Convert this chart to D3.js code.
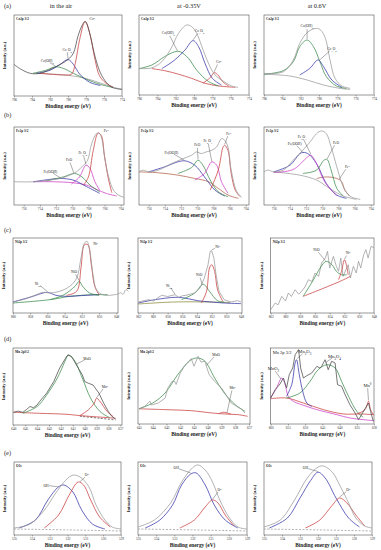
<!DOCTYPE html>
<html>
<head>
<meta charset="utf-8">
<script src="https://cdn.jsdelivr.net/npm/d3@7"></script>
<style>
  body { margin: 0; background: #fff; }
</style>
</head>
<body>
<svg id="fig" width="381" height="550"></svg>
<script>
// ---- tick labels (binding energy, eV) ----
const coTicks = [786, 784, 782, 780, 778, 776, 774];
const feTicks = [716, 714, 712, 710, 708, 706, 704];
const ni1Ticks = [860, 858, 856, 854, 852, 850, 848];
const ni2Ticks = [862, 860, 858, 856, 854, 852, 850, 848];
const mn1Ticks = [646, 645, 644, 643, 642, 641, 640, 639, 638, 637];
const mn2Ticks = [645, 644, 643, 642, 641, 640, 639, 638, 637];
const mn3Ticks = [660, 655, 650, 645, 640, 635, 630];
const oTicks = [535, 534, 533, 532, 531, 530, 529];

const colHeads = ['in the air', 'at -0.35V', 'at 0.6V'];
const rowTags = ['(a)', '(b)', '(c)', '(d)', '(e)'];

// ---- (a) Co 2p3/2 : [energy, intensity] ----
const a1Total = [[786,39],[785.3,33.5],[784.2,28],[783.1,28],[782,32.7],[780.9,38.8],[780,45],[779.4,53],[778.9,73.5],[778.4,88],[778.1,92],[777.9,89],[777.5,73.5],[777,49],[776.4,28.6],[775.7,16.3],[775,10.2],[774,8.2]];
const a1Bg = [[783.5,28],[781,26.5],[779,24],[777.5,20],[776.4,16],[775,11],[774,8.2]];
const a1Co0 = [[783.1,28],[780.5,26],[779.6,27],[779.2,40],[778.7,70],[778.1,92],[777.6,78],[777,45],[776.5,25],[775.8,16],[775,11]];
const a1Co3O4 = [[783.5,28],[782,31.8],[780.9,38.8],[780,45],[779.4,39],[778.7,27],[777.6,17],[776.4,13]];
const a1CoOH = [[783.9,28],[782.4,32],[781.4,36],[780.5,34],[779.4,28],[777.9,20.4],[776.4,14.3],[775,10.5]];

const a2Total = [[786,33],[784.6,34],[783.5,41.7],[782.4,60.4],[781.7,77],[780.8,87.5],[780.25,85.4],[779.7,77],[779,56],[778.25,35.4],[777.7,25],[777,18.8],[775.9,11.3],[775.2,9.6]];
const a2Bg = [[784.6,33],[783.2,30.4],[781.7,26],[780.25,20.8],[778.8,14.6],[777.3,11.3],[775.5,9.6]];
const a2Co0 = [[779,15],[778.2,22],[777.8,28],[777.3,24],[776.9,17],[776.2,11]];
const a2Co3O4 = [[783.5,33],[782.1,43.8],[781,56],[780.1,68],[779.5,60.4],[778.8,39.6],[778,20.8],[777,12.5]];
const a2CoOH = [[786,33],[784.6,37.5],[783.2,48],[782.1,54],[781.5,54],[780.6,45.8],[779.7,31],[778.4,16.7],[777.3,11.3]];

const a3Total = [[786,27],[783.9,29],[782.8,43.8],[782.1,64.6],[781.2,79],[780.25,83.3],[779.8,81],[779.3,70.8],[778.8,43.8],[778.25,20.8],[777.5,11.3],[776.6,8.3]];
const a3Bg = [[786,26],[783.2,23.75],[781.3,18.75],[779.5,12.5],[777.7,8.3],[776.6,7]];
const a3CoOH = [[786,26],[783.9,30.4],[782.8,41.7],[782.1,60.4],[781.3,68.75],[780.6,60.4],[779.9,41.7],[779.2,23],[778.1,11.3],[777,8.3]];
const a3Co3O4 = [[782.1,25],[781,33.3],[780.1,43.8],[779.5,35.4],[778.6,18.75],[777.5,9.6]];

// ---- (b) Fe 2p3/2 ----
const b1Total = [[717.2,29.8],[714.8,29.8],[712.8,32],[711.5,34],[710.3,38.3],[709.5,42.5],[708.6,51],[708.1,57.4],[707.6,78.7],[707,91.5],[706.7,92.3],[706.4,87],[706,61.7],[705.5,36],[704.9,19],[704.3,12.8],[703.6,9.8]];
const b1Bg = [[714.8,29.8],[712.4,29.8],[709.9,28.5],[708.2,25.5],[707,20],[705.8,14.9],[704.5,11.5]];
const b1Fe0 = [[708.6,25.5],[708,36],[707.4,70],[706.8,92.3],[706.4,89],[706,61.7],[705.5,32],[705.1,15.7]];
const b1Fe3O4 = [[710.1,26.8],[709.1,36],[708.3,51],[707.8,46.8],[707.2,29.8],[706.6,19]];
const b1FeO = [[713.2,31],[711.1,36],[709.7,40.4],[708.8,36],[707.8,25.5],[706.6,17]];
const b1FeOOH = [[714.8,29.8],[712.8,32.8],[711.5,34],[709.9,32],[708.2,23.4],[706.6,14.9]];

const b2Total = [[717.2,42.5],[716.7,44.7],[716,42.5],[714.8,44.7],[713.2,53],[711.7,59.6],[710.7,63.8],[710.1,68],[709.5,66],[708.9,68],[708.2,70.2],[707.6,74.5],[707,85],[706.6,83],[706.2,74.5],[705.8,44.7],[705.1,17],[704.5,9.8]];
const b2Bg = [[717.2,42.5],[714.8,41.3],[712.4,38.3],[710.3,34],[708.6,29.8],[707.4,21.3],[706.2,12.8],[704.9,8.5]];
const b2FeOOH = [[716,42.5],[714,49],[712.4,55.3],[711.5,56.6],[710.3,51],[709.1,36],[707.8,19],[706.6,11.5]];
const b2FeO = [[712.4,40.4],[710.7,48],[709.9,57.4],[709.3,51],[708.4,32],[707.4,17],[706.2,10.6]];
const b2Fe2O3 = [[710.3,32],[709.1,40.4],[708.2,55.3],[707.6,51],[707,29.8],[706.2,15]];
const b2Fe0 = [[708.4,19],[707.4,44.7],[706.8,74.5],[706.6,76.6],[706.2,70],[705.8,40.4],[705.3,19],[704.7,10.6]];

const b3Total = [[717.2,42.5],[716.7,44.7],[716,42.5],[714.8,44.7],[713.6,57.4],[712.4,70.2],[711.5,80.9],[710.7,91.5],[710.1,95],[709.5,91.5],[708.9,74.5],[708.2,49],[707.4,23.4],[706.6,11.5],[705.3,7.2]];
const b3Bg = [[716,42.5],[712.8,38.3],[710.7,32],[709.1,21.3],[707.4,11.5],[705.8,7.2]];
const b3FeOOH = [[716,42.5],[714,51],[712.6,66.8],[711.8,66],[710.7,53],[709.5,27.7],[708.2,12.8],[707,8.5]];
const b3Fe2O3 = [[716,41.7],[713.6,45.5],[711.8,61.7],[711.4,63.8],[710.7,53],[709.7,29.8],[708.2,11.5]];
const b3FeO = [[712.4,40.4],[710.7,44.7],[709.8,57.4],[709.4,58.3],[708.9,44.7],[708.2,21.3],[707.4,11.5]];
const b3Fe0 = [[710.7,34],[709.5,36],[708.2,34],[707.6,29.8],[707.2,19],[706.6,11.5]];

// ---- (c) Ni 2p3/2 ----
const c1Total = [[860,14.7],[858.5,19],[857.3,24.4],[856.5,27.6],[855.7,26.7],[854.6,28.9],[853.4,35.6],[852.6,46.7],[852.1,73.3],[851.7,93.3],[851.4,95.5],[851.1,84.4],[850.7,51],[850.3,31],[849.6,24.4],[848.8,23.6],[848.2,24.4],[847.8,25.3],[847.5,27],[847.2,25],[846.9,31],[846.6,29]];
const c1Sat = [[860,14.7],[857.7,22.2],[856.5,26.7],[856,27.6],[855,23.6],[853.8,22.2],[851.5,23.6],[850,24.4]];
const c1Bg = [[860,13.3],[855.7,17.8],[853.4,22.2],[850.7,24.4],[849,24.4]];
const c1NiO = [[855.7,17.8],[854.2,23.6],[852.8,35.6],[852.3,42.2],[851.9,35.6],[851.1,26.7],[850,23.6]];
const c1Ni0 = [[853.8,23.6],[852.6,29],[852.1,60],[851.7,91],[851.3,91],[850.9,64.4],[850.5,35.6],[850,24.4]];

const c2Total = [[862,14.7],[860.6,17.8],[859.9,16],[859.4,20],[858.8,23.6],[858,22],[857,24.4],[856.5,21],[856,23],[855.5,23.6],[854.3,26.7],[853.6,33.3],[853,46.7],[852.5,64.4],[852.2,82.2],[852,83],[851.7,73.3],[851.4,51],[851,28.9],[850.3,17.8],[849.4,14.7],[848.5,16.4],[848,14.7]];
const c2Sat = [[862,13.3],[859.7,17.8],[857,20.9],[855.7,20],[853.9,16.4],[852.1,14.7],[850.3,13.3],[848,12.5]];
const c2Bg = [[862,12],[857,14.7],[852.5,14.7],[849.5,14]];
const c2NiO = [[856.1,17.8],[854.3,26.7],[853.3,37.8],[853,37.8],[852.3,28.9],[851.2,16.4],[850.3,14.7]];
const c2Ni0 = [[853.4,13.3],[852.7,28.9],[852.3,60],[852,64.4],[851.6,55.6],[851.2,31],[850.5,15.6]];

const c3Total = [[862,4.4],[861.4,13.3],[861,11],[860.5,22.2],[860,16],[859.6,26.7],[859.2,22],[858.7,31],[858.2,25],[857.8,29],[857.3,35.6],[856.9,44.4],[856.4,42],[856,53.3],[855.5,49],[855.1,66.7],[854.6,73.3],[854.3,82.2],[854,60],[853.5,75.6],[853.1,62.2],[852.8,55.6],[852.5,73.3],[852.2,48.9],[851.8,57.8],[851.5,64.4],[851.2,46.7],[850.8,62.2],[850.4,53.3],[850.1,68.9],[849.8,60],[849.4,77.8],[849.1,84.4],[848.8,73.3],[848.4,88.9],[848,86.7]];
const c3NiO = [[857.6,22.2],[856.2,44.4],[855.3,60],[854.5,68.9],[853.7,64.4],[853.1,55.6],[852.4,51],[851.7,51]];
const c3Bg = [[857.6,22.2],[852.6,42.2],[851.2,48.9]];
const c3Ni0 = [[852.8,44.4],[852.4,55.6],[852,71],[851.7,62.2],[851.5,51]];

// ---- (d) Mn 2p ----
const d1Total = [[646,16.5],[645.6,18],[645.2,16.5],[644.9,20],[644.6,24],[644.3,22.5],[644,26],[643.8,30.4],[643.2,41.3],[642.6,56.5],[642.1,74],[641.6,87],[641.4,91.3],[641.1,89],[640.7,78],[640.2,65.2],[640,56.5],[639.7,54.3],[639.3,52],[638.8,41.3],[638.4,28.3],[638,17.4],[637.7,10.9],[637.4,7.8]];
const d1MnO = [[645.2,15.2],[644,24],[643.2,39],[642.3,61],[641.6,84.8],[641.4,90.4],[640.9,84.8],[640.2,61],[639.5,34.8],[638.7,17.4],[637.9,9.6]];
const d1Bg = [[646,16.5],[643.8,15.2],[641.5,13.9],[640.4,12.2],[639.3,10.9],[638.1,9.6],[637.4,8.7]];
const d1Mn0 = [[640.4,12.2],[639.7,19.6],[639.2,28.3],[639,34.8],[638.7,30.4],[638.1,17.4],[637.6,10.9]];
const d1Dash = [[640.4,11.3],[638.7,8.7],[637.4,6.5]];

const d2Total = [[645,20],[644.6,23],[644.2,30],[644.1,25],[643.6,27.6],[643.1,34],[642.9,47.4],[642.6,56],[642.4,56],[642.3,52],[642,67],[641.7,76],[641.2,86],[641,76],[640.7,89],[640.5,81.6],[640.2,82.5],[640.1,76],[639.9,65],[639.5,56],[639,47.4],[638.6,36.4],[638.3,27.6],[637.9,23.2],[637.5,18.9],[637.3,14.5]];
const d2MnO = [[645,20],[644,27.6],[643.1,40.8],[642.1,67],[641.2,84.6],[640.7,86.8],[640.2,82.5],[639.5,60.5],[638.8,40.8],[638,25.4],[637.3,16.7]];
const d2Bg = [[645,20],[643.1,18.9],[641.2,17.5],[639.7,14.5],[638.8,13.2],[637.8,12.3],[637.1,10.1]];
const d2Mn0 = [[639.2,13.5],[638.9,15.5],[638.6,14.5],[638.3,12.8]];

const d3Total = [[660,34.2],[658.7,45.2],[657.3,52.6],[656.3,60.5],[655.4,47.4],[654.6,65],[653.6,73.7],[652.9,91.2],[651.9,97.8],[651.3,73.7],[650.5,60.5],[649.5,63.6],[648.1,67],[646.6,75.9],[645.7,73.7],[645.2,75.9],[644.2,84.6],[643.3,71.5],[642.3,82.5],[641.3,80.3],[640.6,51.8],[639.4,49.6],[638.4,38.6],[637,25.4],[635.5,14.5],[634.5,5.7],[633.6,12.3],[632.6,20.2],[631.6,27.6],[631,16.7],[630.2,3.5]];
const d3MnO2 = [[660,34.2],[658.3,47.4],[656.8,60.5],[655.8,51.8],[654.9,36.4],[653.4,29.8],[650.5,24.6],[646.6,18.9],[640.8,12.3],[637,7.9],[633.1,5.7],[630,4.4]];
const d3Mn2O3 = [[655.4,36.4],[653.9,51.8],[652.9,80.3],[652.5,84.6],[651.7,65],[650.7,43],[649.5,27.6],[648.1,23.2]];
const d3Mn3O4 = [[655.4,34.2],[651.5,40.8],[648.6,56],[646.2,71.5],[643.7,78],[641.3,73.7],[639.4,56],[637.4,36.4],[635,16.7],[633.1,8.8]];
const d3Bg = [[660,33.3],[655.4,34.2],[650.5,27.6],[644.7,18.9],[638.9,13.2],[634,13.2],[630,12.3]];
const d3Mn0 = [[635,13.2],[632.6,18.9],[631.6,29.8],[631,18.9],[630.2,12.3]];

// ---- (e) O 1s ----
const e1Total = [[535,9.6],[534.1,15],[533.3,34],[532.7,56],[532.1,75],[531.7,82],[531.3,79.5],[530.8,66],[530.4,41],[529.9,20.5],[529.5,11],[529,8.2]];
const e1OH = [[534.7,9.6],[533.8,20.5],[533.1,48],[532.5,66],[532.2,68.5],[531.7,59],[531.2,34],[530.6,15],[529.9,8.2]];
const e1O2 = [[533.3,9.6],[532.5,27.4],[531.9,55],[531.4,72.6],[531.1,68.5],[530.7,48],[530.2,24.7],[529.6,11]];
const e1Bg = [[535,8.2],[532,7],[529,5.5]];

const e2Total = [[535,11],[534.1,20.5],[533.2,44],[532.6,72.6],[532,92],[531.7,96],[531.3,89],[530.9,72.6],[530.5,48],[530,24.7],[529.5,11],[529,8.2]];
const e2OH = [[534.6,9.6],[533.8,20.5],[533.1,41],[532.6,68.5],[532.1,83.5],[531.8,85],[531.3,68.5],[530.8,41],[530.2,20.5],[529.5,9.6]];
const e2O2 = [[532.7,9.6],[531.9,20.5],[531.3,38.4],[530.9,48],[530.6,44],[530.2,27.4],[529.7,12.3]];
const e2Bg = [[535,8.2],[532,7],[529,5.5]];

const e3Total = [[535,11],[534.1,20.5],[533.3,48],[532.6,78],[532,93],[531.7,94.5],[531.2,86],[530.8,68.5],[530.3,44],[529.9,23.3],[529.4,12.3],[529,9.6]];
const e3OH = [[534.7,9.6],[533.7,23.3],[533,50.7],[532.4,75],[532,86],[531.6,78],[531,50.7],[530.3,23.3],[529.7,11]];
const e3O2 = [[532.7,9.6],[531.9,20.5],[531.2,41],[530.8,50.7],[530.4,44],[529.9,27.4],[529.4,12.3]];
const e3Bg = [[535,8.2],[532,7],[529,5.5]];

// ---- colours ----
const C = {
  total: '#4a4a4a', gray: '#9a9a9a', red: '#c83c3c', blue: '#3434a8',
  green: '#3a8a4a', magenta: '#cc3cc4', brown: '#b0604a', olive: '#8a8a3a'
};

const serif = '"Liberation Serif", "Times New Roman", serif';

// s(data, colour, noisy?, dashed?)
const s = (data, color, noisy = false, dash = null) => ({ data, color, noisy, dash });

const panels = [
  { box: [14, 15, 122, 96], xd: [786, 774], ticks: coTicks, title: 'Co2p 3/2',
    series: [s(a1Bg, C.gray), s(a1CoOH, C.green), s(a1Co3O4, C.blue), s(a1Co0, C.red), s(a1Total, C.total)],
    labels: [['Co^{0}', 777.3, 95.5], ['Co_{3}O_{4}', 780.1, 57, 780, 46], ['Co(OH)_{2}', 782.3, 43, 781.4, 37]] },
  { box: [139, 15, 249, 95], xd: [786, 774], ticks: coTicks, title: 'Co2p 3/2',
    series: [s(a2Bg, C.red), s(a2CoOH, C.green), s(a2Co3O4, C.blue), s(a2Co0, C.red), s(a2Total, C.gray)],
    labels: [['Co(OH)_{2}', 782.8, 77.5, 781.8, 55], ['Co_{3}O_{4}', 779.4, 80, 780.1, 69], ['Co^{0}', 777.3, 41.6, 777.8, 29]] },
  { box: [264, 15, 374, 95], xd: [786, 774], ticks: coTicks, title: 'Co2p 3/2',
    series: [s(a3Bg, C.gray), s(a3CoOH, C.green), s(a3Co3O4, C.blue), s(a3Total, C.gray)],
    labels: [['Co(OH)_{2}', 781.3, 86, 781.3, 70], ['Co_{3}O_{4}', 778.6, 57.5, 779.9, 44]] },

  { box: [14, 127, 124, 205], xd: [717.2, 703.6], ticks: feTicks, title: 'Fe2p 3/2',
    series: [s(b1Bg, C.magenta), s(b1FeOOH, C.blue), s(b1FeO, C.green), s(b1Fe3O4, C.magenta), s(b1Fe0, C.red), s(b1Total, C.gray)],
    labels: [['Fe(OOH)', 712.7, 43, 711.5, 35], ['FeO', 710.4, 58, 709.8, 41], ['Fe_{3}O_{4}', 708.7, 67, 708.3, 52], ['Fe^{0}', 705.8, 95]] },
  { box: [139, 127, 249, 205], xd: [717.2, 703.6], ticks: feTicks, title: 'Fe2p 3/2',
    series: [s(b2Bg, C.brown), s(b2FeOOH, C.blue), s(b2FeO, C.green), s(b2Fe2O3, C.magenta), s(b2Fe0, C.red), s(b2Total, C.gray)],
    labels: [['Fe(OOH)', 713.2, 67, 711.6, 57.5], ['FeO', 710, 77, 709.9, 58.5], ['Fe_{2}O_{3}', 708.7, 82, 708.2, 56], ['Fe^{0}', 706.1, 92, 706.6, 78]] },
  { box: [264, 127, 374, 205], xd: [717.2, 703.6], ticks: feTicks, title: 'Fe2p 3/2',
    series: [s(b3Bg, C.gray), s(b3Fe0, C.brown), s(b3FeOOH, C.blue), s(b3Fe2O3, C.magenta), s(b3FeO, C.green), s(b3Total, C.gray)],
    labels: [['Fe_{2}O_{3}', 712.5, 88, 711.4, 65], ['Fe(OOH)', 713.4, 79, 712.4, 67.5], ['FeO', 708.3, 80, 709.4, 59], ['Fe^{0}', 706.9, 49, 707.9, 33]] },

  { box: [13, 238, 118, 313], xd: [860, 847.8], ticks: ni1Ticks, title: 'Ni2p 3/2',
    series: [s(c1Bg, C.green), s(c1Sat, C.blue), s(c1NiO, C.green), s(c1Ni0, C.red), s(c1Total, C.gray)],
    labels: [['Ni^{0}', 850.4, 92], ['NiO', 852.9, 55, 852.3, 43], ['Ni_{sat}', 857.1, 39, 856, 28.5]] },
  { box: [138, 238, 242, 313], xd: [862.04, 847.87], ticks: ni2Ticks, title: 'Ni2p 3/2',
    series: [s(c2Bg, C.olive), s(c2Sat, C.blue), s(c2NiO, C.green), s(c2Ni0, C.red), s(c2Total, C.gray, true)],
    labels: [['Ni^{0}', 851.2, 88, 852, 84], ['NiO', 853.7, 51, 853.3, 38.5], ['Ni_{sat}', 857.8, 37, 857, 25]] },
  { box: [270.7, 238, 374, 313], xd: [862, 848], ticks: ni2Ticks, title: 'Ni2p 3/2',
    series: [s(c3Total, C.gray, true), s(c3Bg, C.red), s(c3NiO, C.green), s(c3Ni0, C.red)],
    labels: [['NiO', 855.8, 84, 854.6, 70], ['Ni^{0}', 851.5, 80, 852, 72]] },

  { box: [13, 348, 122, 425], xd: [646.03, 636.86], ticks: mn1Ticks, title: 'Mn 2p3/2',
    series: [s(d1Dash, C.total, false, '2,1.5'), s(d1Bg, C.red), s(d1MnO, C.green), s(d1Mn0, C.red), s(d1Total, C.total, true)],
    labels: [['MnO', 639.8, 86, 640.7, 79], ['Mn^{0}', 638.3, 50, 639, 35.5]] },
  { box: [138, 348, 250, 424], xd: [645.07, 636.93], ticks: mn2Ticks, title: 'Mn 2p3/2',
    series: [s(d2Bg, C.red), s(d2Mn0, C.red), s(d2MnO, C.green), s(d2Total, C.gray, true)],
    labels: [['MnO', 639.4, 91, 640.1, 77], ['Mn^{0}', 638.2, 48, 638.6, 15]] },
  { box: [270.7, 348, 374, 424], xd: [660, 630], ticks: mn3Ticks, title: 'Mn 2p 3/2', big: true,
    series: [s(d3Bg, C.red), s(d3MnO2, C.magenta), s(d3Mn3O4, C.green), s(d3Mn2O3, C.blue), s(d3Mn0, C.red), s(d3Total, C.total, true)],
    labels: [['MnO_{2}', 659.2, 73, 657, 59], ['Mn_{2}O_{3}', 650.1, 95, 652.3, 86], ['Mn_{3}O_{4}', 641.5, 89, 644, 81], ['Mn^{0}', 631.9, 51, 631.6, 31]] },

  { box: [14, 462, 121, 535], xd: [535, 529], ticks: oTicks, title: 'O1s',
    series: [s(e1Bg, C.gray, false, '2,1.5'), s(e1OH, C.blue), s(e1O2, C.red), s(e1Total, C.gray)],
    labels: [['OH', 533.2, 68, 532.5, 66], ['O^{2-}', 530.9, 82, 531.3, 73]] },
  { box: [138, 462, 247, 535], xd: [535, 529], ticks: oTicks, title: 'O1s',
    series: [s(e2Bg, C.gray, false, '2,1.5'), s(e2OH, C.blue), s(e2O2, C.red), s(e2Total, C.gray)],
    labels: [['OH', 532.9, 92, 532.1, 85], ['O^{2-}', 530.5, 62, 530.9, 49]] },
  { box: [264, 462, 372, 535], xd: [535, 529], ticks: oTicks, title: 'O1s',
    series: [s(e3Bg, C.gray, false, '2,1.5'), s(e3OH, C.blue), s(e3O2, C.red), s(e3Total, C.gray)],
    labels: [['OH', 532.7, 92, 532, 87], ['O^{2-}', 530.3, 62, 530.8, 52]] }
];

const svg = d3.select('#fig');

// text with _{sub} and ^{sup} runs
function rich(sel, str) {
  str.split(/(_\{[^}]*\}|\^\{[^}]*\})/).filter(t => t).forEach(t => {
    if (t[0] === '_' || t[0] === '^') {
      sel.append('tspan')
        .attr('baseline-shift', t[0] === '_' ? 'sub' : 'super')
        .attr('font-size', '70%')
        .text(t.slice(2, -1));
    } else {
      sel.append('tspan').text(t);
    }
  });
}

// column headers and row tags
const headX = [61, 189, 317];
colHeads.forEach((t, i) => {
  svg.append('text').attr('x', headX[i]).attr('y', 8).attr('text-anchor', 'middle')
    .attr('font-family', serif).attr('font-size', 6.3).attr('fill', '#222').text(t);
});
const tagY = [8, 117, 232, 341, 455];
rowTags.forEach((t, i) => {
  svg.append('text').attr('x', 4).attr('y', tagY[i])
    .attr('font-family', serif).attr('font-size', 6.3).attr('fill', '#222').text(t);
});

panels.forEach(p => {
  const [x0, y0, x1, y1] = p.box;
  const x = d3.scaleLinear().domain(p.xd).range([x0, x1]);
  const y = d3.scaleLinear().domain([0, 100]).range([y1, y0]);
  const g = svg.append('g');

  g.append('rect').attr('x', x0).attr('y', y0).attr('width', x1 - x0).attr('height', y1 - y0)
    .attr('fill', 'none').attr('stroke', '#333').attr('stroke-width', 0.5);

  const ax = g.append('g').attr('transform', `translate(0,${y1})`)
    .call(d3.axisBottom(x).tickValues(p.ticks).tickSize(1.5).tickPadding(1).tickFormat(d3.format('d')));
  ax.select('.domain').remove();
  ax.attr('font-family', serif).attr('font-size', 3.4);
  ax.selectAll('line').attr('stroke', '#333').attr('stroke-width', 0.4);
  ax.selectAll('text').attr('fill', '#333');

  // axis titles
  const cx = (x0 + x1) / 2;
  g.append('text').attr('x', cx).attr('y', y1 + 11.5).attr('text-anchor', 'middle')
    .attr('font-family', serif).attr('font-weight', 'bold').attr('font-size', 5.3).attr('fill', '#222')
    .text('Binding energy (eV)');
  const yx = x0 - 8;
  g.append('text').attr('transform', `translate(${yx},${(y0 + y1) / 2}) rotate(-90)`)
    .attr('text-anchor', 'middle').attr('font-family', serif).attr('font-weight', 'bold')
    .attr('font-size', 4.4).attr('fill', '#222').text('Intensity (a.u.)');

  // panel tag
  g.append('text').attr('x', x0 + 2).attr('y', y0 + (p.big ? 5.5 : 4.5))
    .attr('font-family', serif).attr('font-weight', p.big ? 'normal' : 'bold')
    .attr('font-size', p.big ? 4.5 : 3.4)
    .attr('fill', '#222').text(p.title);

  // curves
  p.series.forEach(se => {
    const line = d3.line().x(d => x(d[0])).y(d => y(d[1]))
      .curve(se.noisy ? d3.curveLinear : d3.curveCatmullRom.alpha(0.5));
    g.append('path').datum(se.data).attr('d', line)
      .attr('fill', 'none').attr('stroke', se.color).attr('stroke-width', 0.75)
      .attr('stroke-dasharray', se.dash);
  });

  // peak labels with leader lines
  p.labels.forEach(([txt, le, li, te, ti]) => {
    const lx = x(le), ly = y(li);
    if (te !== undefined) {
      const tx = x(te), ty = y(ti);
      const d = Math.hypot(tx - lx, ty - ly) || 1;
      g.append('line').attr('x1', lx + (tx - lx) * 3 / d).attr('y1', ly + (ty - ly) * 3 / d)
        .attr('x2', tx).attr('y2', ty).attr('stroke', '#333').attr('stroke-width', 0.4);
    }
    const t = g.append('text').attr('x', lx).attr('y', ly).attr('dy', '0.35em')
      .attr('text-anchor', 'middle').attr('font-family', serif)
      .attr('font-size', p.big ? 4.6 : 3.6).attr('fill', '#222');
    rich(t, txt);
  });
});
</script>
</body>
</html>
